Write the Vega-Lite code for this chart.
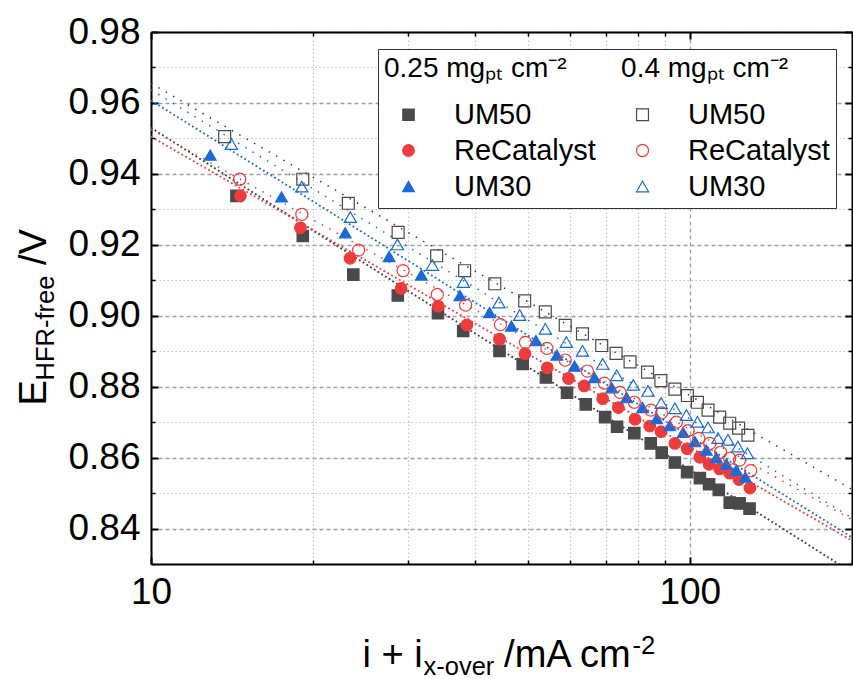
{
  "$schema": "https://vega.github.io/schema/vega-lite/v6.json",
  "width": 701,
  "height": 532,
  "autosize": {"type": "none"},
  "padding": {"left": 151, "top": 32, "right": 1, "bottom": 115},
  "background": "white",
  "datasets": {
    "fits": [
      {"series": "UM50 (0.25)", "loading": "0.25", "current": 10, "E": 0.953},
      {"series": "UM50 (0.25)", "loading": "0.25", "current": 200, "E": 0.8276},
      {"series": "ReCatalyst (0.25)", "loading": "0.25", "current": 10, "E": 0.9505},
      {"series": "ReCatalyst (0.25)", "loading": "0.25", "current": 200, "E": 0.8366},
      {"series": "UM30 (0.25)", "loading": "0.25", "current": 10, "E": 0.9607},
      {"series": "UM30 (0.25)", "loading": "0.25", "current": 200, "E": 0.8375},
      {"series": "UM50 (0.4)", "loading": "0.4", "current": 10, "E": 0.9655},
      {"series": "UM50 (0.4)", "loading": "0.4", "current": 200, "E": 0.851},
      {"series": "ReCatalyst (0.4)", "loading": "0.4", "current": 10, "E": 0.9525},
      {"series": "ReCatalyst (0.4)", "loading": "0.4", "current": 200, "E": 0.8425},
      {"series": "UM30 (0.4)", "loading": "0.4", "current": 10, "E": 0.9637},
      {"series": "UM30 (0.4)", "loading": "0.4", "current": 200, "E": 0.843}
    ],
    "points": [
      {"series": "UM50 (0.25)", "loading": "0.25", "current": 14.41, "E": 0.9338},
      {"series": "UM50 (0.25)", "loading": "0.25", "current": 19.13, "E": 0.9225},
      {"series": "UM50 (0.25)", "loading": "0.25", "current": 23.74, "E": 0.9116},
      {"series": "UM50 (0.25)", "loading": "0.25", "current": 28.71, "E": 0.9057},
      {"series": "UM50 (0.25)", "loading": "0.25", "current": 34.09, "E": 0.9007},
      {"series": "UM50 (0.25)", "loading": "0.25", "current": 37.97, "E": 0.8957},
      {"series": "UM50 (0.25)", "loading": "0.25", "current": 44.34, "E": 0.8901},
      {"series": "UM50 (0.25)", "loading": "0.25", "current": 48.96, "E": 0.8864},
      {"series": "UM50 (0.25)", "loading": "0.25", "current": 54.07, "E": 0.8826},
      {"series": "UM50 (0.25)", "loading": "0.25", "current": 59.18, "E": 0.8783},
      {"series": "UM50 (0.25)", "loading": "0.25", "current": 64.11, "E": 0.875},
      {"series": "UM50 (0.25)", "loading": "0.25", "current": 69.63, "E": 0.8714},
      {"series": "UM50 (0.25)", "loading": "0.25", "current": 73.28, "E": 0.8687},
      {"series": "UM50 (0.25)", "loading": "0.25", "current": 78.89, "E": 0.8669},
      {"series": "UM50 (0.25)", "loading": "0.25", "current": 84.63, "E": 0.864},
      {"series": "UM50 (0.25)", "loading": "0.25", "current": 88.69, "E": 0.8614},
      {"series": "UM50 (0.25)", "loading": "0.25", "current": 93.82, "E": 0.8586},
      {"series": "UM50 (0.25)", "loading": "0.25", "current": 98.86, "E": 0.8559},
      {"series": "UM50 (0.25)", "loading": "0.25", "current": 104.4, "E": 0.8542},
      {"series": "UM50 (0.25)", "loading": "0.25", "current": 108.6, "E": 0.8525},
      {"series": "UM50 (0.25)", "loading": "0.25", "current": 113.2, "E": 0.8509},
      {"series": "UM50 (0.25)", "loading": "0.25", "current": 118.6, "E": 0.8473},
      {"series": "UM50 (0.25)", "loading": "0.25", "current": 123.7, "E": 0.8471},
      {"series": "UM50 (0.25)", "loading": "0.25", "current": 129.1, "E": 0.8456},
      {"series": "ReCatalyst (0.25)", "loading": "0.25", "current": 14.65, "E": 0.9338},
      {"series": "ReCatalyst (0.25)", "loading": "0.25", "current": 18.94, "E": 0.9248},
      {"series": "ReCatalyst (0.25)", "loading": "0.25", "current": 23.41, "E": 0.9162},
      {"series": "ReCatalyst (0.25)", "loading": "0.25", "current": 29.12, "E": 0.9077},
      {"series": "ReCatalyst (0.25)", "loading": "0.25", "current": 34.13, "E": 0.9027},
      {"series": "ReCatalyst (0.25)", "loading": "0.25", "current": 38.57, "E": 0.8974},
      {"series": "ReCatalyst (0.25)", "loading": "0.25", "current": 44.34, "E": 0.8934},
      {"series": "ReCatalyst (0.25)", "loading": "0.25", "current": 49.44, "E": 0.8893},
      {"series": "ReCatalyst (0.25)", "loading": "0.25", "current": 54.39, "E": 0.8853},
      {"series": "ReCatalyst (0.25)", "loading": "0.25", "current": 59.55, "E": 0.8823},
      {"series": "ReCatalyst (0.25)", "loading": "0.25", "current": 63.68, "E": 0.8802},
      {"series": "ReCatalyst (0.25)", "loading": "0.25", "current": 68.92, "E": 0.8766},
      {"series": "ReCatalyst (0.25)", "loading": "0.25", "current": 73.69, "E": 0.8741},
      {"series": "ReCatalyst (0.25)", "loading": "0.25", "current": 79.12, "E": 0.8708},
      {"series": "ReCatalyst (0.25)", "loading": "0.25", "current": 84.26, "E": 0.8689},
      {"series": "ReCatalyst (0.25)", "loading": "0.25", "current": 88.42, "E": 0.8673},
      {"series": "ReCatalyst (0.25)", "loading": "0.25", "current": 93.82, "E": 0.864},
      {"series": "ReCatalyst (0.25)", "loading": "0.25", "current": 98.86, "E": 0.8625},
      {"series": "ReCatalyst (0.25)", "loading": "0.25", "current": 104.4, "E": 0.8601},
      {"series": "ReCatalyst (0.25)", "loading": "0.25", "current": 108.6, "E": 0.8581},
      {"series": "ReCatalyst (0.25)", "loading": "0.25", "current": 113.6, "E": 0.8568},
      {"series": "ReCatalyst (0.25)", "loading": "0.25", "current": 118.6, "E": 0.8556},
      {"series": "ReCatalyst (0.25)", "loading": "0.25", "current": 123.4, "E": 0.8538},
      {"series": "ReCatalyst (0.25)", "loading": "0.25", "current": 129.3, "E": 0.8514},
      {"series": "UM30 (0.25)", "loading": "0.25", "current": 12.88, "E": 0.9453},
      {"series": "UM30 (0.25)", "loading": "0.25", "current": 17.47, "E": 0.9335},
      {"series": "UM30 (0.25)", "loading": "0.25", "current": 22.94, "E": 0.9234},
      {"series": "UM30 (0.25)", "loading": "0.25", "current": 27.67, "E": 0.9167},
      {"series": "UM30 (0.25)", "loading": "0.25", "current": 31.75, "E": 0.9115},
      {"series": "UM30 (0.25)", "loading": "0.25", "current": 37.44, "E": 0.9057},
      {"series": "UM30 (0.25)", "loading": "0.25", "current": 42.49, "E": 0.9009},
      {"series": "UM30 (0.25)", "loading": "0.25", "current": 46.66, "E": 0.8971},
      {"series": "UM30 (0.25)", "loading": "0.25", "current": 51.81, "E": 0.893},
      {"series": "UM30 (0.25)", "loading": "0.25", "current": 56.66, "E": 0.8889},
      {"series": "UM30 (0.25)", "loading": "0.25", "current": 61.1, "E": 0.8858},
      {"series": "UM30 (0.25)", "loading": "0.25", "current": 66.53, "E": 0.8826},
      {"series": "UM30 (0.25)", "loading": "0.25", "current": 71.62, "E": 0.8797},
      {"series": "UM30 (0.25)", "loading": "0.25", "current": 76.34, "E": 0.8769},
      {"series": "UM30 (0.25)", "loading": "0.25", "current": 81.72, "E": 0.8741},
      {"series": "UM30 (0.25)", "loading": "0.25", "current": 86.81, "E": 0.871},
      {"series": "UM30 (0.25)", "loading": "0.25", "current": 91.83, "E": 0.869},
      {"series": "UM30 (0.25)", "loading": "0.25", "current": 97.19, "E": 0.8671},
      {"series": "UM30 (0.25)", "loading": "0.25", "current": 102.2, "E": 0.8645},
      {"series": "UM30 (0.25)", "loading": "0.25", "current": 107.3, "E": 0.8621},
      {"series": "UM30 (0.25)", "loading": "0.25", "current": 112.0, "E": 0.86},
      {"series": "UM30 (0.25)", "loading": "0.25", "current": 116.9, "E": 0.8582},
      {"series": "UM30 (0.25)", "loading": "0.25", "current": 122.0, "E": 0.8565},
      {"series": "UM30 (0.25)", "loading": "0.25", "current": 126.8, "E": 0.8545},
      {"series": "UM50 (0.4)", "loading": "0.4", "current": 13.7, "E": 0.9505},
      {"series": "UM50 (0.4)", "loading": "0.4", "current": 19.13, "E": 0.9385},
      {"series": "UM50 (0.4)", "loading": "0.4", "current": 23.24, "E": 0.9317},
      {"series": "UM50 (0.4)", "loading": "0.4", "current": 28.75, "E": 0.9235},
      {"series": "UM50 (0.4)", "loading": "0.4", "current": 33.9, "E": 0.9169},
      {"series": "UM50 (0.4)", "loading": "0.4", "current": 38.2, "E": 0.9127},
      {"series": "UM50 (0.4)", "loading": "0.4", "current": 43.46, "E": 0.909},
      {"series": "UM50 (0.4)", "loading": "0.4", "current": 49.38, "E": 0.9042},
      {"series": "UM50 (0.4)", "loading": "0.4", "current": 53.93, "E": 0.9011},
      {"series": "UM50 (0.4)", "loading": "0.4", "current": 58.72, "E": 0.8973},
      {"series": "UM50 (0.4)", "loading": "0.4", "current": 63.21, "E": 0.8949},
      {"series": "UM50 (0.4)", "loading": "0.4", "current": 68.63, "E": 0.8916},
      {"series": "UM50 (0.4)", "loading": "0.4", "current": 72.98, "E": 0.8894},
      {"series": "UM50 (0.4)", "loading": "0.4", "current": 77.46, "E": 0.887},
      {"series": "UM50 (0.4)", "loading": "0.4", "current": 83.48, "E": 0.8841},
      {"series": "UM50 (0.4)", "loading": "0.4", "current": 88.38, "E": 0.8817},
      {"series": "UM50 (0.4)", "loading": "0.4", "current": 93.82, "E": 0.8793},
      {"series": "UM50 (0.4)", "loading": "0.4", "current": 98.98, "E": 0.8775},
      {"series": "UM50 (0.4)", "loading": "0.4", "current": 103.3, "E": 0.8756},
      {"series": "UM50 (0.4)", "loading": "0.4", "current": 108.1, "E": 0.8734},
      {"series": "UM50 (0.4)", "loading": "0.4", "current": 113.6, "E": 0.8714},
      {"series": "UM50 (0.4)", "loading": "0.4", "current": 118.6, "E": 0.8697},
      {"series": "UM50 (0.4)", "loading": "0.4", "current": 123.2, "E": 0.8683},
      {"series": "UM50 (0.4)", "loading": "0.4", "current": 128.2, "E": 0.8663},
      {"series": "ReCatalyst (0.4)", "loading": "0.4", "current": 14.61, "E": 0.9385},
      {"series": "ReCatalyst (0.4)", "loading": "0.4", "current": 19.05, "E": 0.9286},
      {"series": "ReCatalyst (0.4)", "loading": "0.4", "current": 24.28, "E": 0.9185},
      {"series": "ReCatalyst (0.4)", "loading": "0.4", "current": 29.37, "E": 0.9127},
      {"series": "ReCatalyst (0.4)", "loading": "0.4", "current": 33.99, "E": 0.906},
      {"series": "ReCatalyst (0.4)", "loading": "0.4", "current": 38.36, "E": 0.903},
      {"series": "ReCatalyst (0.4)", "loading": "0.4", "current": 44.52, "E": 0.8975},
      {"series": "ReCatalyst (0.4)", "loading": "0.4", "current": 49.53, "E": 0.8925},
      {"series": "ReCatalyst (0.4)", "loading": "0.4", "current": 54.3, "E": 0.8908},
      {"series": "ReCatalyst (0.4)", "loading": "0.4", "current": 58.72, "E": 0.8875},
      {"series": "ReCatalyst (0.4)", "loading": "0.4", "current": 64.57, "E": 0.8844},
      {"series": "ReCatalyst (0.4)", "loading": "0.4", "current": 69.42, "E": 0.881},
      {"series": "ReCatalyst (0.4)", "loading": "0.4", "current": 74.22, "E": 0.8784},
      {"series": "ReCatalyst (0.4)", "loading": "0.4", "current": 78.89, "E": 0.8756},
      {"series": "ReCatalyst (0.4)", "loading": "0.4", "current": 84.69, "E": 0.8734},
      {"series": "ReCatalyst (0.4)", "loading": "0.4", "current": 88.61, "E": 0.8726},
      {"series": "ReCatalyst (0.4)", "loading": "0.4", "current": 94.45, "E": 0.87},
      {"series": "ReCatalyst (0.4)", "loading": "0.4", "current": 99.28, "E": 0.8676},
      {"series": "ReCatalyst (0.4)", "loading": "0.4", "current": 103.9, "E": 0.8654},
      {"series": "ReCatalyst (0.4)", "loading": "0.4", "current": 108.9, "E": 0.864},
      {"series": "ReCatalyst (0.4)", "loading": "0.4", "current": 114.1, "E": 0.8615},
      {"series": "ReCatalyst (0.4)", "loading": "0.4", "current": 118.6, "E": 0.8598},
      {"series": "ReCatalyst (0.4)", "loading": "0.4", "current": 123.7, "E": 0.8593},
      {"series": "ReCatalyst (0.4)", "loading": "0.4", "current": 129.7, "E": 0.8563},
      {"series": "UM30 (0.4)", "loading": "0.4", "current": 14.1, "E": 0.9484},
      {"series": "UM30 (0.4)", "loading": "0.4", "current": 19.05, "E": 0.9364},
      {"series": "UM30 (0.4)", "loading": "0.4", "current": 23.44, "E": 0.9278},
      {"series": "UM30 (0.4)", "loading": "0.4", "current": 28.67, "E": 0.9201},
      {"series": "UM30 (0.4)", "loading": "0.4", "current": 33.27, "E": 0.9143},
      {"series": "UM30 (0.4)", "loading": "0.4", "current": 38.0, "E": 0.9095},
      {"series": "UM30 (0.4)", "loading": "0.4", "current": 44.21, "E": 0.9037},
      {"series": "UM30 (0.4)", "loading": "0.4", "current": 48.34, "E": 0.9002},
      {"series": "UM30 (0.4)", "loading": "0.4", "current": 53.93, "E": 0.8963},
      {"series": "UM30 (0.4)", "loading": "0.4", "current": 59.0, "E": 0.8926},
      {"series": "UM30 (0.4)", "loading": "0.4", "current": 63.21, "E": 0.8901},
      {"series": "UM30 (0.4)", "loading": "0.4", "current": 68.92, "E": 0.8864},
      {"series": "UM30 (0.4)", "loading": "0.4", "current": 73.16, "E": 0.8832},
      {"series": "UM30 (0.4)", "loading": "0.4", "current": 78.55, "E": 0.8805},
      {"series": "UM30 (0.4)", "loading": "0.4", "current": 83.65, "E": 0.8788},
      {"series": "UM30 (0.4)", "loading": "0.4", "current": 88.49, "E": 0.8754},
      {"series": "UM30 (0.4)", "loading": "0.4", "current": 93.82, "E": 0.8739},
      {"series": "UM30 (0.4)", "loading": "0.4", "current": 98.56, "E": 0.872},
      {"series": "UM30 (0.4)", "loading": "0.4", "current": 103.3, "E": 0.8701},
      {"series": "UM30 (0.4)", "loading": "0.4", "current": 108.1, "E": 0.8685},
      {"series": "UM30 (0.4)", "loading": "0.4", "current": 112.8, "E": 0.8655},
      {"series": "UM30 (0.4)", "loading": "0.4", "current": 117.7, "E": 0.865},
      {"series": "UM30 (0.4)", "loading": "0.4", "current": 122.8, "E": 0.8631},
      {"series": "UM30 (0.4)", "loading": "0.4", "current": 127.9, "E": 0.8612}
    ]
  },
  "layer": [
    {
      "data": {"name": "fits"},
      "transform": [{"filter": "datum.loading == '0.25'"}],
      "mark": {"type": "line", "clip": true, "strokeWidth": 1.8, "strokeDash": [1.8, 2.6]},
      "encoding": {
        "x": {"field": "current", "type": "quantitative",
          "scale": {"type": "log", "domain": [10, 200], "nice": false},
          "axis": {"orient": "bottom", "values": [10, 100], "format": "d", "labels": true, "labelFontSize": 37, "labelPadding": 17,
            "tickSize": -7, "tickWidth": 2, "domain": true, "domainWidth": 2, "grid": true, "gridColor": "#a0a0a0", "gridDash": [4, 3], "gridWidth": 1.3,
            "title": "i + i", "titleFontSize": 38, "titleX": 211, "titleY": 102, "titleAlign": "left", "titleBaseline": "alphabetic", "titleAngle": 0}},
        "y": {"field": "E", "type": "quantitative",
          "scale": {"domain": [0.83, 0.98], "nice": false, "zero": false},
          "axis": {"orient": "left", "values": [0.84, 0.86, 0.88, 0.9, 0.92, 0.94, 0.96, 0.98], "format": ".2f", "labelFontSize": 37, "labelPadding": 18,
            "tickSize": -7, "tickWidth": 2, "domain": true, "domainWidth": 2, "grid": true, "gridColor": "#a0a0a0", "gridDash": [4, 3], "gridWidth": 1.3,
            "title": "E", "titleFontSize": 38, "titleX": -106, "titleY": 373, "titleAngle": 270, "titleAlign": "left", "titleBaseline": "alphabetic"}},
        "color": {"field": "series", "type": "nominal", "legend": null,
          "scale": {"domain": ["UM50 (0.4)", "ReCatalyst (0.4)", "UM30 (0.4)", "UM50 (0.25)", "ReCatalyst (0.25)", "UM30 (0.25)"],
            "range": ["#3c3c3c", "#ee3b3b", "#1a6bd9", "#3c3c3c", "#ee3b3b", "#1a6bd9"]}}
      }
    },
    {
      "data": {"name": "fits"},
      "transform": [{"filter": "datum.loading == '0.4'"}],
      "mark": {"type": "line", "clip": true, "strokeWidth": 1.5, "strokeDash": [1.5, 7]},
      "encoding": {
        "x": {"field": "current", "type": "quantitative",
          "scale": {"type": "log", "domain": [10, 200], "nice": false},
          "axis": {"orient": "bottom", "values": [20, 30, 40, 50, 60, 70, 80, 90, 200], "labels": false,
            "tickSize": -4, "tickWidth": 1.5, "domain": false, "grid": true, "gridColor": "#c4c4c4", "gridDash": [1.5, 2.5], "gridWidth": 1.2,
            "title": "x-over", "titleFontSize": 25.5, "titleX": 272, "titleY": 110, "titleAlign": "left", "titleBaseline": "alphabetic", "titleAngle": 0}},
        "y": {"field": "E", "type": "quantitative",
          "scale": {"domain": [0.83, 0.98], "nice": false, "zero": false},
          "axis": {"orient": "left", "values": [0.83, 0.85, 0.87, 0.89, 0.91, 0.93, 0.95, 0.97], "labels": false,
            "tickSize": -4, "tickWidth": 1.5, "domain": false, "grid": true, "gridColor": "#c4c4c4", "gridDash": [1.5, 2.5], "gridWidth": 1.2,
            "title": "HFR-free", "titleFontSize": 25.5, "titleX": -98, "titleY": 348, "titleAngle": 270, "titleAlign": "left", "titleBaseline": "alphabetic"}},
        "color": {"field": "series", "type": "nominal", "legend": null,
          "scale": {"domain": ["UM50 (0.4)", "ReCatalyst (0.4)", "UM30 (0.4)", "UM50 (0.25)", "ReCatalyst (0.25)", "UM30 (0.25)"],
            "range": ["#3c3c3c", "#ee3b3b", "#1a6bd9", "#3c3c3c", "#ee3b3b", "#1a6bd9"]}}
      }
    },
    {
      "data": {"name": "points"},
      "transform": [{"filter": "datum.loading == '0.25'"}],
      "mark": {"type": "point", "filled": true, "opacity": 1, "strokeWidth": 1.2},
      "encoding": {
        "x": {"field": "current", "type": "quantitative",
          "scale": {"type": "log", "domain": [10, 200], "nice": false},
          "axis": {"orient": "top", "values": [10, 100], "labels": false,
            "tickSize": -7, "tickWidth": 2, "domain": true, "domainWidth": 2, "grid": false,
            "title": "/mA cm", "titleFontSize": 38, "titleX": 352.6, "titleY": 634, "titleAlign": "left", "titleBaseline": "alphabetic", "titleAngle": 0}},
        "y": {"field": "E", "type": "quantitative",
          "scale": {"domain": [0.83, 0.98], "nice": false, "zero": false},
          "axis": {"orient": "right", "values": [0.84, 0.86, 0.88, 0.9, 0.92, 0.94, 0.96, 0.98], "labels": false,
            "tickSize": -7, "tickWidth": 2, "domain": true, "domainWidth": 2, "grid": false,
            "title": "/V", "titleFontSize": 38, "titleX": -807, "titleY": 232.5, "titleAngle": 270, "titleAlign": "left", "titleBaseline": "alphabetic"}},
        "shape": {"field": "series", "type": "nominal",
          "scale": {"domain": ["UM50 (0.25)", "ReCatalyst (0.25)", "UM30 (0.25)", "UM50 (0.4)", "ReCatalyst (0.4)", "UM30 (0.4)"],
            "range": ["square", "circle", "triangle-up", "square", "circle", "triangle-up"]},
          "legend": {"title": "0.25 mgₚₜ cm⁻²\u00a0\u00a0\u00a0\u00a0\u00a0\u00a0 0.4 mgₚₜ cm⁻²", "orient": "none", "legendX": 227, "legendY": 17, "columns": 2,
            "labelExpr": "split(datum.label, ' (')[0]"}},
        "fill": {"field": "series", "type": "nominal",
          "scale": {"domain": ["UM50 (0.25)", "ReCatalyst (0.25)", "UM30 (0.25)", "UM50 (0.4)", "ReCatalyst (0.4)", "UM30 (0.4)"],
            "range": ["#4a4a4a", "#ee3b3b", "#1a6bd9", "transparent", "transparent", "transparent"]}},
        "stroke": {"field": "series", "type": "nominal",
          "scale": {"domain": ["UM50 (0.25)", "ReCatalyst (0.25)", "UM30 (0.25)", "UM50 (0.4)", "ReCatalyst (0.4)", "UM30 (0.4)"],
            "range": ["#4a4a4a", "#ee3b3b", "#1a6bd9", "#4a4a4a", "#ee3b3b", "#1a6bd9"]}},
        "size": {"field": "series", "type": "nominal",
          "scale": {"domain": ["UM50 (0.25)", "ReCatalyst (0.25)", "UM30 (0.25)", "UM50 (0.4)", "ReCatalyst (0.4)", "UM30 (0.4)"],
            "range": [130, 150, 260, 105, 125, 220]}}
      }
    },
    {
      "data": {"name": "points"},
      "transform": [{"filter": "datum.loading == '0.4'"}],
      "mark": {"type": "point", "filled": true, "opacity": 1, "strokeWidth": 1.2},
      "encoding": {
        "x": {"field": "current", "type": "quantitative",
          "scale": {"type": "log", "domain": [10, 200], "nice": false},
          "axis": {"orient": "top", "values": [20, 30, 40, 50, 60, 70, 80, 90, 200], "labels": false,
            "tickSize": -4, "tickWidth": 1.5, "domain": false, "grid": false,
            "title": "-2", "titleFontSize": 25.5, "titleX": 481, "titleY": 621, "titleAlign": "left", "titleBaseline": "alphabetic", "titleAngle": 0}},
        "y": {"field": "E", "type": "quantitative",
          "scale": {"domain": [0.83, 0.98], "nice": false, "zero": false},
          "axis": {"orient": "right", "values": [0.83, 0.85, 0.87, 0.89, 0.91, 0.93, 0.95, 0.97], "labels": false,
            "tickSize": -4, "tickWidth": 1.5, "domain": false, "grid": false, "title": null}},
        "shape": {"field": "series", "type": "nominal",
          "scale": {"domain": ["UM50 (0.25)", "ReCatalyst (0.25)", "UM30 (0.25)", "UM50 (0.4)", "ReCatalyst (0.4)", "UM30 (0.4)"],
            "range": ["square", "circle", "triangle-up", "square", "circle", "triangle-up"]},
          "legend": {"title": "0.25 mgₚₜ cm⁻²\u00a0\u00a0\u00a0\u00a0\u00a0\u00a0 0.4 mgₚₜ cm⁻²", "orient": "none", "legendX": 227, "legendY": 17, "columns": 2,
            "labelExpr": "split(datum.label, ' (')[0]"}},
        "fill": {"field": "series", "type": "nominal",
          "scale": {"domain": ["UM50 (0.25)", "ReCatalyst (0.25)", "UM30 (0.25)", "UM50 (0.4)", "ReCatalyst (0.4)", "UM30 (0.4)"],
            "range": ["#4a4a4a", "#ee3b3b", "#1a6bd9", "transparent", "transparent", "transparent"]}},
        "stroke": {"field": "series", "type": "nominal",
          "scale": {"domain": ["UM50 (0.25)", "ReCatalyst (0.25)", "UM30 (0.25)", "UM50 (0.4)", "ReCatalyst (0.4)", "UM30 (0.4)"],
            "range": ["#4a4a4a", "#ee3b3b", "#1a6bd9", "#4a4a4a", "#ee3b3b", "#1a6bd9"]}},
        "size": {"field": "series", "type": "nominal",
          "scale": {"domain": ["UM50 (0.25)", "ReCatalyst (0.25)", "UM30 (0.25)", "UM50 (0.4)", "ReCatalyst (0.4)", "UM30 (0.4)"],
            "range": [130, 150, 260, 105, 125, 220]}}
      }
    }
  ],
  "resolve": {"axis": {"x": "independent", "y": "independent"}},
  "config": {
    "view": {"stroke": null},
    "axis": {"labelFont": "Liberation Sans", "titleFont": "Liberation Sans", "labelColor": "black", "titleColor": "black",
      "titleFontWeight": "normal", "tickColor": "black", "domainColor": "black", "labelFlush": false, "labelOverlap": false},
    "legend": {"titleFont": "Liberation Sans", "labelFont": "Liberation Sans", "titleFontSize": 28, "titleFontWeight": "normal",
      "titleColor": "black", "labelFontSize": 29, "labelColor": "black", "columnPadding": 22, "rowPadding": 6,
      "symbolOffset": 10, "labelOffset": 31, "padding": 6, "strokeColor": "#333333", "fillColor": "white", "titlePadding": 17,
      "symbolStrokeWidth": 1.2, "labelLimit": 300, "titleLimit": 600}
  }
}
